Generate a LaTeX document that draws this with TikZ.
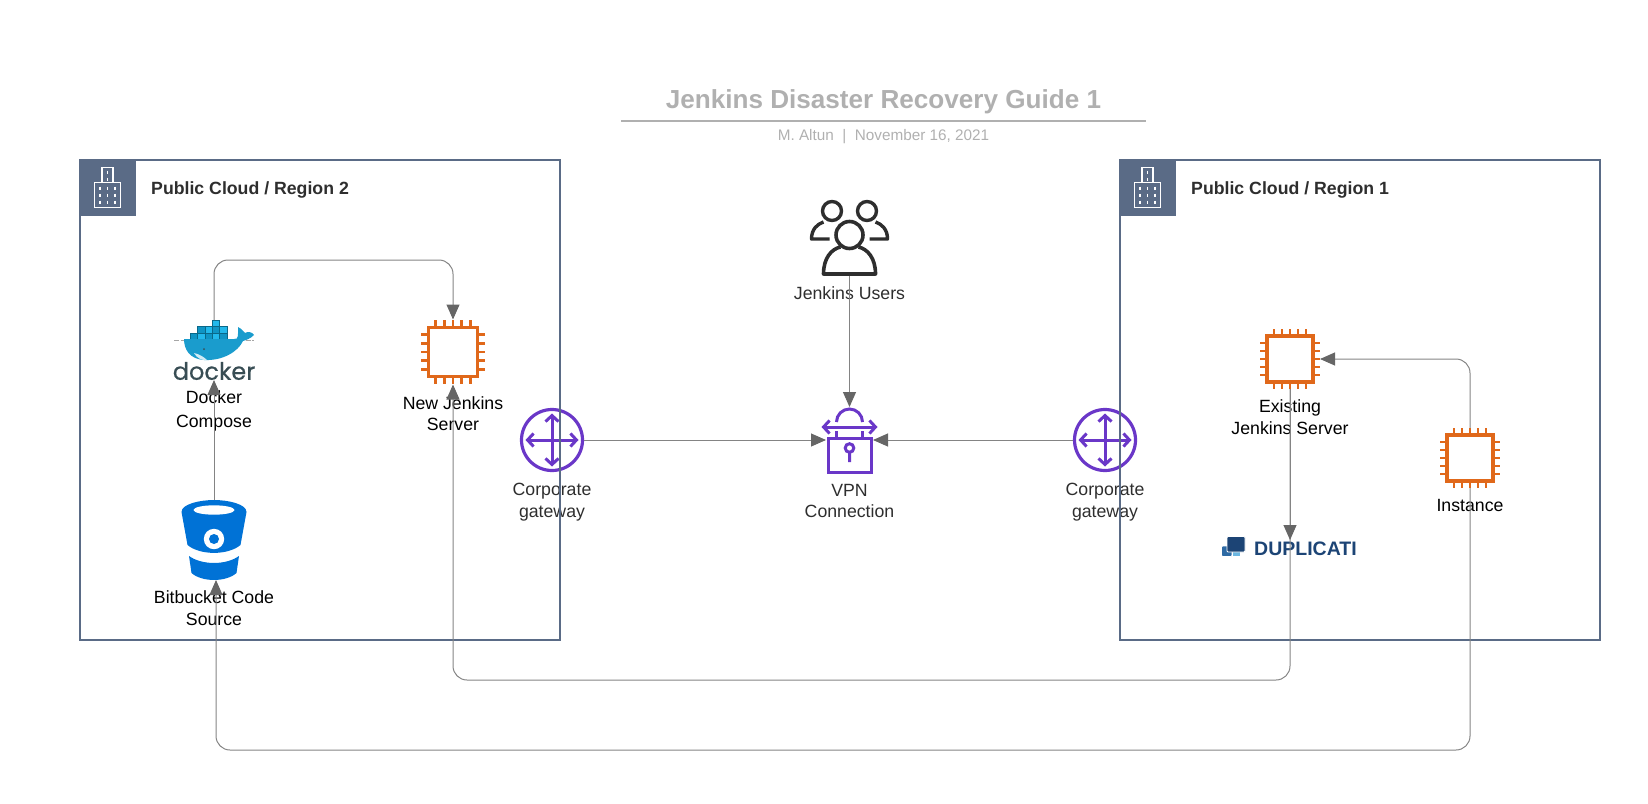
\documentclass[tikz,border=0pt]{standalone}
\usepackage{fontspec}
\setmainfont{Liberation Sans}
\newfontfamily\dockerfont[FakeBold=0.5]{Poppins}
\usetikzlibrary{arrows.meta, positioning}

\definecolor{regionblue}{HTML}{5A6B86}
\definecolor{chiporange}{HTML}{E0681A}
\definecolor{netpurple}{HTML}{6A37C8}
\definecolor{usergray}{HTML}{2E2E2E}
\definecolor{linegray}{HTML}{848484}
\definecolor{tipgray}{HTML}{666666}
\definecolor{titlegray}{HTML}{B0B0B0}
\definecolor{bucketblue}{HTML}{0072D6}
\definecolor{dockerdark}{HTML}{384D54}
\definecolor{dockerhull}{HTML}{1A9CCD}
\definecolor{dockerlight}{HTML}{22B8EB}
\definecolor{dockermid}{HTML}{0F94C4}
\definecolor{dupnavy}{HTML}{1C4475}
\definecolor{dupmid}{HTML}{2E6AA4}
\definecolor{duplight}{HTML}{6BB6E0}

\tikzset{
  chip/.pic={
    \draw[chiporange, line width=3.2pt] (-23,-23) rectangle (23,23);
    \foreach \p in {-16,-8,0,8,16} {
      \draw[chiporange, line width=2.7pt] (\p,-23) -- (\p,-30) (\p,23) -- (\p,30)
        (-23,\p) -- (-30,\p) (23,\p) -- (30,\p);
    }
  },
  gateway/.pic={
    \draw[netpurple, line width=3.2pt] (0,0) circle (30.5);
    \draw[netpurple, line width=3pt, {Straight Barb[length=6pt,width=13pt]}-{Straight Barb[length=6pt,width=13pt]}]
      (-26.5,0) -- (26.5,0);
    \draw[netpurple, line width=3pt, {Straight Barb[length=6pt,width=13pt]}-{Straight Barb[length=6pt,width=13pt]}]
      (0,-26.5) -- (0,26.5);
  },
  vpnlock/.pic={
    \draw[netpurple, line width=3pt] (-21.5,-2) rectangle (21.5,32);
    \draw[netpurple, line width=3pt] (-13,-18) arc[start angle=180, end angle=360, radius=13];
    \draw[netpurple, line width=3pt] (-13,-9) -- (-13,-2) (13,-9) -- (13,-2);
    \draw[netpurple, line width=3pt, {Straight Barb[length=6pt,width=13pt]}-{Straight Barb[length=6pt,width=13pt]}]
      (-28,-13) -- (28,-13);
    \draw[netpurple, line width=3pt] (0,8) circle (4.3) (0,12.3) -- (0,22);
  },
  usergroup/.pic={
    \draw[usergray, line width=3.4pt] (-17.5,-27) circle (9.5) (17.5,-27) circle (9.5);
    \draw[usergray, line width=3.4pt, line join=round] (-20,1) -- (-38,1)
      .. controls (-38,-9) and (-32,-14) .. (-26,-16);
    \draw[usergray, line width=3.4pt, line join=round] (20,1) -- (38,1)
      .. controls (38,-9) and (32,-14) .. (26,-16);
    \draw[usergray, line width=3.6pt, fill=white] (0,-3) circle (13.5);
    \draw[usergray, line width=3.6pt, line join=round] (-9,9)
      .. controls (-18,11) and (-26,20) .. (-26,36) -- (26,36)
      .. controls (26,20) and (18,11) .. (9,9);
  },
  building/.pic={
    \draw[white, line width=1.3pt] (-13,-5) rectangle (13,20);
    \draw[white, line width=1.3pt] (-5.5,-5) -- (-5.5,-20) -- (5.5,-20) -- (5.5,-5);
    \foreach \c in {-7.5,0,7.5} {
      \draw[white, line width=1.3pt, dash pattern=on 3.5pt off 3.5pt] (\c,-1) -- (\c,18);
    }
    \draw[white, line width=1.3pt, dash pattern=on 3.5pt off 3.5pt] (0,-17) -- (0,-5);
  },
  bucket/.pic={
    \fill[bucketblue] (-32.5,-28) .. controls (-32.5,-36) and (-14,-40) .. (0,-40)
      .. controls (14,-40) and (32.5,-36) .. (32.5,-28)
      -- (26.5,5) .. controls (14,15.5) and (-14,15.5) .. (-26.5,5) -- cycle;
    \fill[white] (0,-30) ellipse (20.5 and 4.7);
    \fill[white] (0,-1) circle (10.2);
    \fill[bucketblue] (0,-1) circle (5);
    \fill[bucketblue] (-25,16) .. controls (-12,25.3) and (12,25.3) .. (25,16)
      -- (22.5,33) .. controls (12,42.3) and (-12,42.3) .. (-22.5,33) -- cycle;
  },
  whale/.pic={
    \draw[gray!70, line width=0.5pt, dash pattern=on 5pt off 1.5pt] (-40,-9.5) -- (40,-9.5);
    \foreach \c/\f in {-24/dockermid,-16.6/dockerlight,-9.2/dockermid,-1.8/dockerlight,5.6/dockermid} {
      \draw[fill=\f, draw=dockermid!70!black, line width=0.3pt] (\c,-16.7) rectangle ++(7.4,6.7);
    }
    \foreach \c/\f in {-16.6/dockermid,-9.2/dockerlight,-1.8/dockermid,5.6/dockerlight} {
      \draw[fill=\f, draw=dockermid!70!black, line width=0.3pt] (\c,-23.4) rectangle ++(7.4,6.7);
    }
    \draw[fill=dockerlight, draw=dockermid!70!black, line width=0.3pt] (-1.8,-30) rectangle ++(7.4,6.6);
    \fill[dockerhull] (-30,-11) -- (20,-11) .. controls (25,-10) and (24,-16) .. (24,-23)
      .. controls (28,-21) and (30,-18) .. (31,-17) .. controls (34,-19) and (38,-18) .. (40,-15)
      .. controls (36,-11) and (32,-10) .. (29,-9)
      .. controls (24,2) and (8,11) .. (-10,10) .. controls (-24,9) and (-30,0) .. cycle;
    \fill[white!80!dockerhull] (-20,3) .. controls (-15,4) and (-10,7) .. (-7,10)
      .. controls (-13,10.5) and (-17,8) .. cycle;
    \fill[dockerdark] (-10,-1) circle (1);
  },
  dupicon/.pic={
    \draw[fill=dupmid, draw=white, line width=0.8pt, rounded corners=1pt] (-5.5,-2) rectangle (5,8.5);
    \draw[fill=duplight, draw=white, line width=0.8pt] (5.5,2) rectangle (13,8);
    \draw[fill=dupnavy, draw=white, line width=0.8pt, rounded corners=1pt] (0,-11.5) rectangle (18,4);
  },
}

\begin{document}
\begin{tikzpicture}[
  x=1pt, y=-1pt,
  >=Stealth,
  regionbox/.style={draw=regionblue, line width=2pt, minimum width=480pt, minimum height=480pt, inner sep=0pt},
  headbox/.style={fill=regionblue, minimum size=57pt, inner sep=0pt, outer sep=0pt},
  regionlbl/.style={font=\fontsize{17.7}{22}\selectfont\bfseries, text=usergray, inner sep=0pt, yshift=-2.5pt},
  chipspot/.style={minimum size=60pt, inner sep=0pt, outer sep=0pt},
  gatespot/.style={minimum size=64pt, inner sep=0pt, outer sep=0pt},
  blacklbl/.style={font=\fontsize{17.7}{21.5}\selectfont, align=center, inner sep=0pt, text=black},
  graylbl/.style={font=\fontsize{17.7}{21.5}\selectfont, align=center, inner sep=0pt, text=usergray},
  conn/.style={-{Triangle[length=15pt,width=13pt,color=tipgray]}, draw=linegray, line width=1pt, rounded corners=14pt},
]
\useasboundingbox (0,0) rectangle (1648,803);

% Title block
\node[font=\fontsize{26.1}{30}\selectfont\bfseries, text=titlegray, inner sep=0pt] (title) at (883.5,101.5) {Jenkins Disaster Recovery Guide 1};
\node[font=\fontsize{15.3}{18}\selectfont, text=titlegray, inner sep=0pt, below=15.5pt of title] (subtitle) {M. Altun\ \ |\ \ November 16, 2021};
\coordinate (ruleleft) at (621,121);
\coordinate (ruleright) at (1146,121);
\draw[titlegray, line width=1.5pt] (ruleleft) -- (ruleright);

% Gateways sit under the region borders
\node[gatespot] (gateleft) at (552,440) {};
\node[gatespot] (gateright) at (1105,440) {};
\pic at (gateleft) {gateway};
\pic at (gateright) {gateway};
\node[graylbl, below=11pt of gateleft] (gateleftlbl) {Corporate\\gateway};
\node[graylbl, below=11pt of gateright] (gaterightlbl) {Corporate\\gateway};

% Regions
\node[regionbox] (regiontwo) at (320,400) {};
\node[regionbox] (regionone) at (1360,400) {};
\node[headbox, anchor=north west] (headtwo) at (regiontwo.north west) {};
\node[headbox, anchor=north west] (headone) at (regionone.north west) {};
\pic at (headtwo) {building};
\pic at (headone) {building};
\node[regionlbl, right=15pt of headtwo] (regiontwolbl) {Public Cloud / Region 2};
\node[regionlbl, right=15pt of headone] (regiononelbl) {Public Cloud / Region 1};

% Region 2 content
\node[minimum width=80pt, minimum height=60pt, inner sep=0pt, outer sep=0pt] (docker) at (214,350) {};
\pic at (docker) {whale};
\node[font=\dockerfont\fontsize{24}{26}\selectfont, text=dockerdark, inner sep=0pt] (dockerword) at (214,371) {docker};
\node[blacklbl, below=10pt of docker] (dockerlbl) {Docker\\[2.5pt]Compose};
\node[minimum width=65pt, minimum height=80pt, inner sep=0pt, outer sep=0pt] (bitbucket) at (214,540) {};
\pic at (bitbucket) {bucket};
\node[blacklbl, below=10.5pt of bitbucket] (bitbucketlbl) {Bitbucket Code\\Source};
\node[chipspot, minimum size=65pt] (newjenkins) at (453,352) {};
\pic[scale=1.08] at (newjenkins) {chip};
\node[blacklbl, below=11.5pt of newjenkins] (newjenkinslbl) {New Jenkins\\Server};

% Middle column
\node[minimum size=76pt, inner sep=0pt, outer sep=0pt] (users) at (849.5,238) {};
\pic at (users) {usergroup};
\node[graylbl, below=10pt of users] (userslbl) {Jenkins Users};
\node[minimum width=47pt, minimum height=66pt, inner sep=0pt, outer sep=0pt] (vpn) at (849.5,440) {};
\pic at (vpn) {vpnlock};
\node[graylbl, below=11pt of vpn] (vpnlbl) {VPN\\Connection};

% Region 1 content
\node[chipspot] (existing) at (1290,359) {};
\pic at (existing) {chip};
\node[blacklbl, below=10.5pt of existing] (existinglbl) {Existing\\Jenkins Server};
\node[chipspot] (instance) at (1470,458) {};
\pic at (instance) {chip};
\node[blacklbl, below=11pt of instance] (instancelbl) {Instance};
\node[minimum width=140pt, minimum height=18pt, inner sep=0pt, outer sep=0pt] (duplicati) at (1290,549) {};
\pic at (1227,548) {dupicon};
\node[font=\fontsize{19.5}{22}\selectfont\bfseries, text=dupnavy, inner sep=0pt, anchor=west] (duplicatilbl) at (1254,548.5) {DUPLICATI};

% Connectors
\coordinate (toprail) at (214,260);
\coordinate (midrail) at (453,680);
\coordinate (lowrail) at (216,750);
\draw[conn] (docker.north) -- (toprail) -| (newjenkins.north);
\draw[conn] (bitbucket.north) -- (docker.south);
\draw[conn] (existing.south) |- (midrail) -- (newjenkins.south);
\draw[conn] (existing.south) -- (duplicati.north);
\draw[conn] (instance.north) |- (existing.east);
\draw[conn] (instance.south) |- (lowrail) -- (lowrail |- bitbucket.south);
\draw[conn] (users.south) -- (vpn.north);
\draw[conn] (gateleft.east) -- (vpn.west);
\draw[conn] (gateright.west) -- (vpn.east);

\end{tikzpicture}
\end{document}
